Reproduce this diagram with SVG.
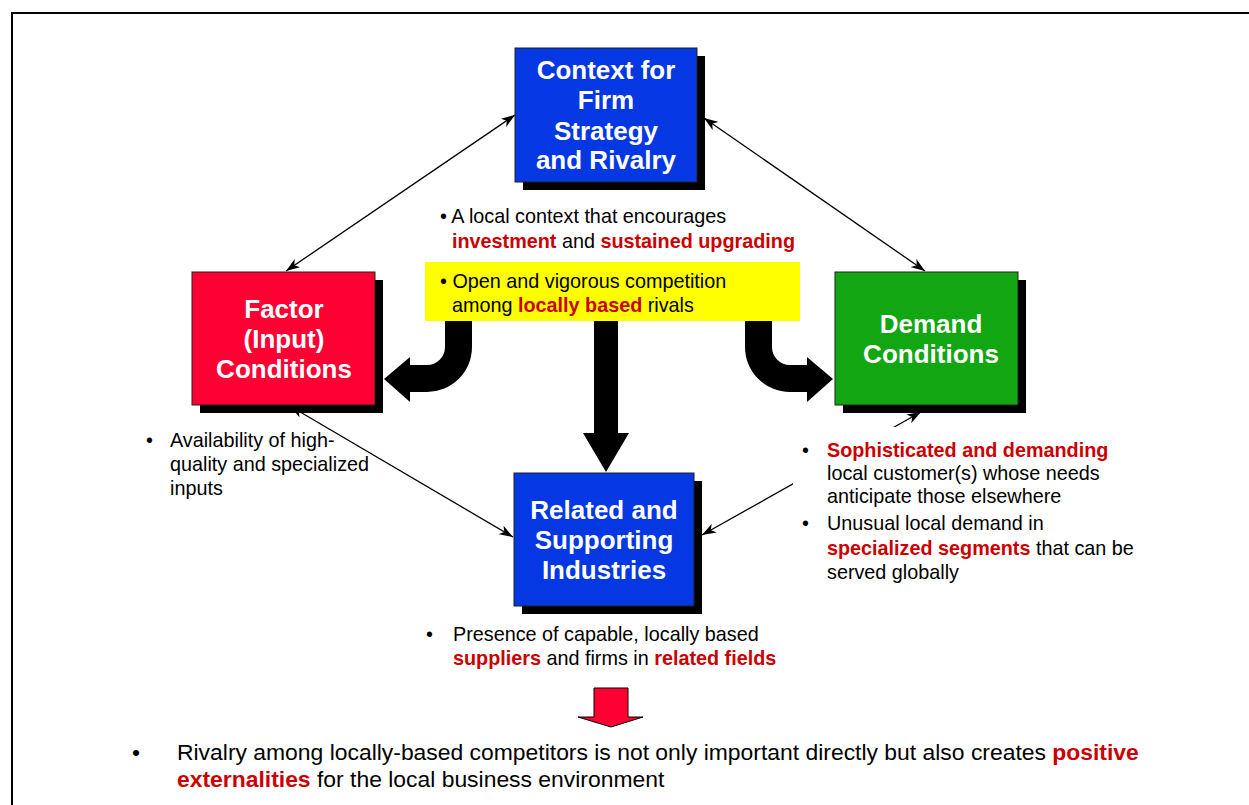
<svg xmlns="http://www.w3.org/2000/svg" width="1249" height="805" viewBox="0 0 1249 805">
  <defs>
    <marker id="tip" viewBox="0 0 14 10" refX="14" refY="5" markerWidth="14" markerHeight="10" markerUnits="userSpaceOnUse" orient="auto-start-reverse">
      <path d="M0,0 L14,5 L0,10 L4,5 Z" fill="#000"/>
    </marker>
    <style>
      .shadow { fill: #000; }
      .box { stroke: #222; stroke-width: 1; }
      .blue { fill: #0537E3; }
      .red { fill: #FF0033; }
      .green { fill: #12A612; }
      .title { font-family: "Liberation Sans", Arial, sans-serif; font-weight: bold; font-size: 26px; fill: #fff; text-anchor: middle; }
      .txt { font-family: "Liberation Sans", Arial, sans-serif; font-size: 19.8px; fill: #000; }
      .big { font-family: "Liberation Sans", Arial, sans-serif; font-size: 22.9px; fill: #000; }
      .hl { font-weight: bold; fill: #CC0000; }
      .thin { stroke: #000; stroke-width: 1.3; fill: none; marker-start: url(#tip); marker-end: url(#tip); }
      .fat { fill: #000; }
    </style>
  </defs>

  <rect width="1249" height="805" fill="#fff"/>

  <!-- page frame -->
  <path d="M12,805 L12,13 L1249,13" fill="none" stroke="#000" stroke-width="2"/>

  <!-- connectors -->
  <g id="connectors">
    <line class="thin" x1="515" y1="115" x2="286" y2="271"/>
    <line class="thin" x1="704" y1="118" x2="925" y2="271"/>
    <line class="thin" x1="290" y1="406" x2="513" y2="537"/>
    <line class="thin" x1="921" y1="412" x2="702" y2="535"/>
    <!-- thick flows out of the rivalry box -->
    <path class="fat" d="M445,321 L472,321 L472,347 A45,45 0 0 1 427,392 L410,392 L410,402 L384,379 L410,357 L410,365 L427,365 A18,18 0 0 0 445,347 Z"/>
    <path class="fat" d="M772,321 L745,321 L745,347 A45,45 0 0 0 790,392 L807,392 L807,402 L833,379 L807,357 L807,365 L790,365 A18,18 0 0 1 772,347 Z"/>
    <path class="fat" d="M594,321 L618,321 L618,433 L629,433 L606,472 L583,433 L594,433 Z"/>
  </g>

  <!-- Context for Firm Strategy and Rivalry -->
  <g id="node-context">
    <rect class="shadow" x="523" y="56" width="182" height="134"/>
    <rect class="box blue" x="515" y="48" width="182" height="134"/>
    <text class="title" x="606" y="79">Context for</text>
    <text class="title" x="606" y="109">Firm</text>
    <text class="title" x="606" y="140">Strategy</text>
    <text class="title" x="606" y="169">and Rivalry</text>
  </g>

  <!-- Factor (Input) Conditions -->
  <g id="node-factor">
    <rect class="shadow" x="200" y="280" width="183" height="133"/>
    <rect class="box red" x="192" y="272" width="183" height="133"/>
    <text class="title" x="284" y="318">Factor</text>
    <text class="title" x="284" y="348">(Input)</text>
    <text class="title" x="284" y="378">Conditions</text>
  </g>

  <!-- Demand Conditions -->
  <g id="node-demand">
    <rect class="shadow" x="843" y="280" width="183" height="133"/>
    <rect class="box green" x="835" y="272" width="183" height="133"/>
    <text class="title" x="931" y="333">Demand</text>
    <text class="title" x="931" y="363">Conditions</text>
  </g>

  <!-- Related and Supporting Industries -->
  <g id="node-related">
    <rect class="shadow" x="522" y="481" width="180" height="133"/>
    <rect class="box blue" x="514" y="473" width="180" height="133"/>
    <text class="title" x="604" y="519">Related and</text>
    <text class="title" x="604" y="549">Supporting</text>
    <text class="title" x="604" y="579">Industries</text>
  </g>

  <!-- notes on rivalry -->
  <g id="note-context">
    <text class="txt" x="440" y="223">• A local context that encourages</text>
    <text class="txt" x="452" y="248"><tspan class="hl">investment</tspan> and <tspan class="hl">sustained upgrading</tspan></text>
  </g>
  <g id="note-competition">
    <rect x="425" y="262" width="375" height="59" fill="#FFFF00"/>
    <text class="txt" x="440" y="288">• Open and vigorous competition</text>
    <text class="txt" x="452" y="312">among <tspan class="hl">locally based</tspan> rivals</text>
  </g>

  <!-- notes on factors -->
  <g id="note-factor">
    <text class="txt" x="146" y="447">•</text>
    <text class="txt" x="170" y="447">Availability of high-</text>
    <text class="txt" x="170" y="471">quality and specialized</text>
    <text class="txt" x="170" y="495">inputs</text>
  </g>

  <!-- notes on demand -->
  <g id="note-demand">
    <rect x="793" y="427" width="360" height="165" fill="#fff"/>
    <text class="txt" x="802" y="457">•</text>
    <text class="txt" x="827" y="457"><tspan class="hl">Sophisticated and demanding</tspan></text>
    <text class="txt" x="827" y="480">local customer(s) whose needs</text>
    <text class="txt" x="827" y="503">anticipate those elsewhere</text>
    <text class="txt" x="802" y="530">•</text>
    <text class="txt" x="827" y="530">Unusual local demand in</text>
    <text class="txt" x="827" y="555"><tspan class="hl">specialized segments</tspan> that can be</text>
    <text class="txt" x="827" y="579">served globally</text>
  </g>

  <!-- notes on related industries -->
  <g id="note-related">
    <text class="txt" x="426" y="641">•</text>
    <text class="txt" x="453" y="641">Presence of capable, locally based</text>
    <text class="txt" x="453" y="665"><tspan class="hl">suppliers</tspan> and firms in <tspan class="hl">related fields</tspan></text>
  </g>

  <!-- conclusion -->
  <g id="conclusion">
    <path d="M594,688 L628,688 L628,717 L643,717 L611,727 L578,717 L594,717 Z" fill="#FF0033" stroke="#000" stroke-width="1"/>
    <text class="big" x="132" y="760">•</text>
    <text class="big" x="177" y="760">Rivalry among locally-based competitors is not only important directly but also creates <tspan class="hl">positive</tspan></text>
    <text class="big" x="177" y="787"><tspan class="hl">externalities</tspan> for the local business environment</text>
  </g>
</svg>
